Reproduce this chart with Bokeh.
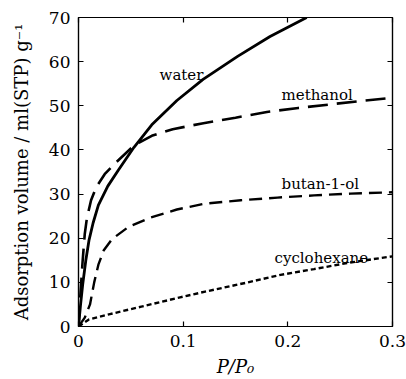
from bokeh.plotting import figure
from bokeh.models import LinearAxis, FixedTicker, Range1d, CustomLabelingPolicy
from bokeh.core.properties import value
from bokeh.embed import file_html
from bokeh.resources import INLINE

# ---- data ----
water_p = [0.0, 0.002, 0.004, 0.007, 0.010, 0.014, 0.019, 0.028, 0.038, 0.053,
           0.070, 0.094, 0.119, 0.152, 0.183, 0.218]
water_v = [0.0, 5.0, 9.5, 15.0, 19.5, 23.5, 27.5, 31.8, 35.4, 40.6,
           45.7, 51.2, 56.0, 61.2, 65.7, 70.0]

methanol_p = [0.0, 0.002, 0.004, 0.006, 0.008, 0.012, 0.017, 0.025, 0.036, 0.053,
              0.070, 0.090, 0.118, 0.150, 0.180, 0.210, 0.240, 0.270, 0.300]
methanol_v = [0.0, 8.0, 15.0, 21.0, 24.5, 28.6, 31.6, 34.5, 37.2, 41.0,
              43.2, 44.7, 46.0, 47.3, 48.6, 49.5, 50.3, 51.1, 51.8]

butanol_p = [0.0, 0.006, 0.011, 0.015, 0.019, 0.024, 0.032, 0.048, 0.068, 0.094,
             0.120, 0.155, 0.190, 0.225, 0.260, 0.300]
butanol_v = [0.0, 2.0, 5.0, 10.0, 14.0, 17.2, 19.8, 22.6, 24.6, 26.5,
             27.8, 28.6, 29.2, 29.7, 30.1, 30.4]

cyclohexane_p = [0.0, 0.010, 0.030, 0.060, 0.097, 0.121, 0.160, 0.193, 0.225, 0.257, 0.300]
cyclohexane_v = [0.0, 1.6, 2.8, 4.5, 6.6, 7.9, 9.9, 11.7, 13.0, 14.4, 15.9]

label_text = ["water", "methanol", "butan-1-ol", "cyclohexane"]
label_p = [0.0984, 0.228, 0.231, 0.232]
label_v = [56.9, 52.4, 32.3, 15.5]

x_ticks = [0, 0.1, 0.2, 0.3]
x_tick_labels = {0: "0", 0.1: "0.1", 0.2: "0.2", 0.3: "0.3"}
y_ticks = [0, 10, 20, 30, 40, 50, 60, 70]

FONT = "DejaVu Serif"

p = figure(width=406, height=379, output_backend="svg", toolbar_location=None,
           x_range=Range1d(0, 0.3), y_range=Range1d(0, 70),
           min_border_left=78, min_border_right=14, min_border_top=17,
           min_border_bottom=52)
p.grid.visible = False
p.outline_line_color = "black"
p.outline_line_width = 1.2
p.background_fill_color = "white"
p.border_fill_color = "white"

# extra axes on top and right (tick marks only, no labels)
hide_all = CustomLabelingPolicy(code="""
    for (let i = 0; i < indices.size; i++) { indices.unset(i) }
    return indices
""")
p.add_layout(LinearAxis(major_label_policy=hide_all), "above")
p.add_layout(LinearAxis(major_label_policy=hide_all), "right")

for ax in p.xaxis:
    ax.ticker = FixedTicker(ticks=x_ticks)
for ax in p.yaxis:
    ax.ticker = FixedTicker(ticks=y_ticks)

for ax in p.axis:
    ax.major_tick_in = 5
    ax.major_tick_out = 0
    ax.minor_tick_line_color = None
    ax.axis_line_color = "black"
    ax.axis_line_width = 1.2
    ax.major_tick_line_color = "black"
    ax.major_tick_line_width = 1.2
    ax.major_label_text_font = FONT
    ax.major_label_text_font_size = "17px"
    ax.major_label_text_color = "black"
    ax.axis_label_text_font = FONT
    ax.axis_label_text_color = "black"

bottom = p.below[0]
left = p.left[0]
top = p.above[0]
right = p.right[0]

bottom.major_label_overrides = x_tick_labels
bottom.major_label_standoff = 8
bottom.axis_label = "P/P₀"
bottom.axis_label_text_font_style = "italic"
bottom.axis_label_text_font_size = "18px"
bottom.axis_label_standoff = 6

left.major_label_standoff = 8
left.axis_label = "Adsorption volume / ml(STP) g⁻¹"
left.axis_label_text_font_style = "normal"
left.axis_label_text_font_size = "18px"
left.axis_label_standoff = 14

for ax in (top, right):
    ax.major_label_text_font_size = "0px"
    ax.major_label_standoff = 0
    ax.axis_label = None

p.line(water_p, water_v, line_color="black", line_width=2.8)
p.line(methanol_p, methanol_v, line_color="black", line_width=2.6, line_dash="20 9")
p.line(butanol_p, butanol_v, line_color="black", line_width=2.4, line_dash="13 7")
p.line(cyclohexane_p, cyclohexane_v, line_color="black", line_width=2.4, line_dash="5 3")

p.text(x=label_p, y=label_v, text=label_text, text_font=value(FONT),
       text_font_size="15px", text_align="center", text_baseline="alphabetic",
       text_color="black")

open("out.html", "w").write(file_html(p, INLINE))
